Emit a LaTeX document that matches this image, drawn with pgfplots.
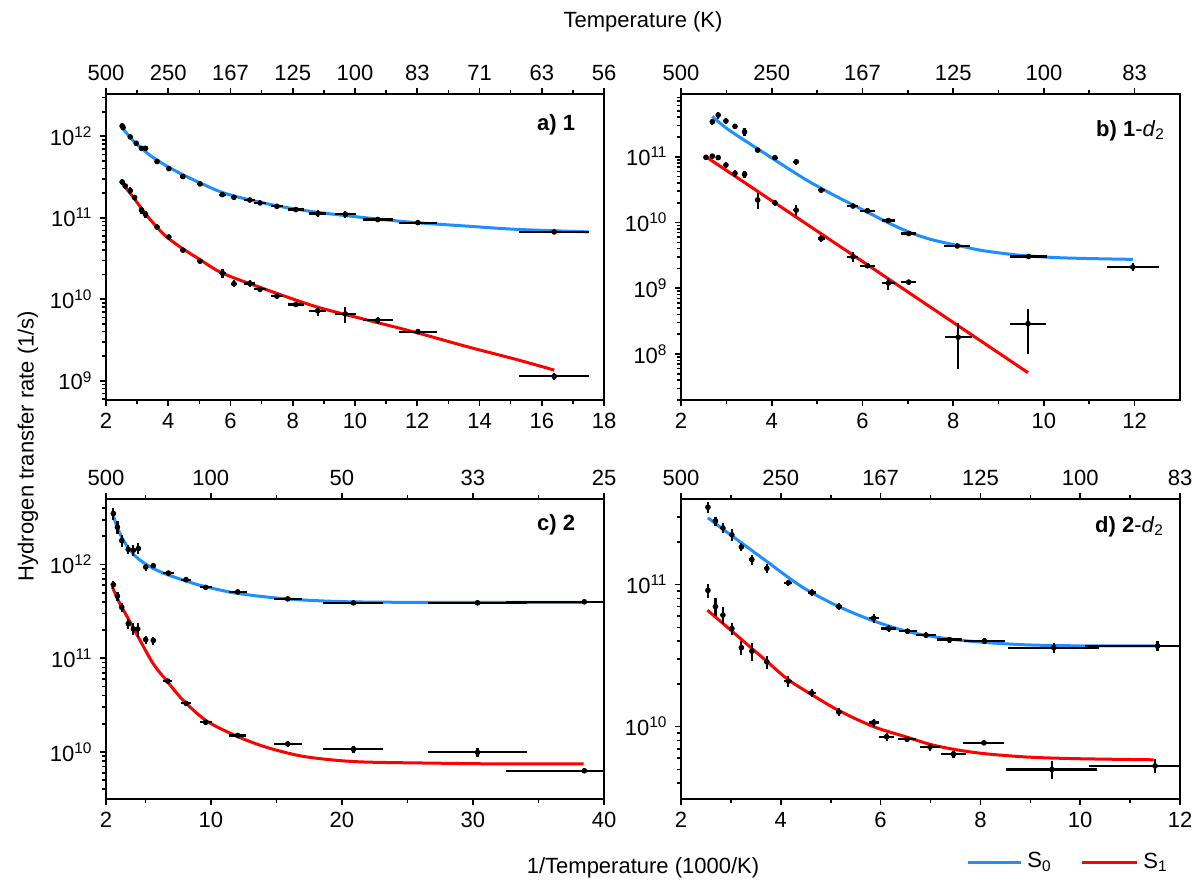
\documentclass[border=0pt]{standalone}
\usepackage{pgfplots}
\pgfplotsset{compat=1.18}
\usepackage{pgfplotstable}
\usepackage{fontspec}
\setmainfont{Liberation Sans}
\definecolor{SzeroBlue}{HTML}{1E8FFF}
\definecolor{SoneRed}{HTML}{FF0000}

% ---- panel a) 1 ----
\pgfplotstableread{
x y ex ey
2.52 1.34e12 0.05 0.08e12
2.55 1.28e12 0.05 0.08e12
2.78 9.8e11 0.05 0.6e11
2.97 8.2e11 0.05 0.5e11
3.14 7.1e11 0.05 0.45e11
3.27 7.1e11 0.05 0.5e11
3.64 4.9e11 0.06 0.3e11
4.02 4.0e11 0.07 0.25e11
4.47 3.2e11 0.08 0.2e11
5.02 2.6e11 0.1 0.16e11
5.74 1.92e11 0.11 0.12e11
6.11 1.78e11 0.11 0.1e11
6.62 1.65e11 0.18 0.08e11
6.95 1.52e11 0.18 0.08e11
7.49 1.38e11 0.19 0.07e11
8.10 1.26e11 0.25 0.06e11
8.80 1.13e11 0.27 0.1e11
9.69 1.10e11 0.33 0.1e11
10.73 9.5e10 0.48 0.4e10
12.02 8.7e10 0.62 0.4e10
16.40 6.7e10 1.13 0.3e10
}\tabAzero
\pgfplotstableread{
x y ex ey
2.52 2.75e11 0.05 0.2e11
2.62 2.45e11 0.05 0.2e11
2.78 2.15e11 0.05 0.2e11
2.92 1.77e11 0.05 0.15e11
3.14 1.24e11 0.05 0.12e11
3.27 1.10e11 0.05 0.1e11
3.64 7.7e10 0.06 0.6e10
4.02 5.8e10 0.07 0.4e10
4.47 4.0e10 0.08 0.3e10
5.02 2.93e10 0.1 0.2e10
5.74 2.09e10 0.11 0.25e10
6.11 1.55e10 0.11 0.15e10
6.62 1.56e10 0.18 0.15e10
6.95 1.32e10 0.18 0.1e10
7.49 1.09e10 0.19 0.08e10
8.10 8.6e9 0.25 0.6e9
8.80 7.2e9 0.27 0.9e9
9.69 6.6e9 0.33 1.5e9
10.73 5.5e9 0.48 0.5e9
12.02 4.0e9 0.62 0.2e9
16.40 1.13e9 1.13 0.1e9
}\tabAone
\pgfplotstableread{
x y
2.46 1.36e12
2.84 9.1e11
3.37 6.0e11
3.91 4.4e11
4.45 3.4e11
5.0 2.7e11
5.74 2.04e11
6.6 1.66e11
7.67 1.36e11
8.75 1.17e11
9.82 1.05e11
10.89 9.5e10
11.97 8.7e10
13.58 7.9e10
15.19 7.2e10
17.5 6.7e10
}\fitAzero
\pgfplotstableread{
x y
2.46 2.82e11
2.84 1.86e11
3.37 1.0e11
3.91 6.0e10
4.45 4.2e10
5.0 3.1e10
5.74 2.09e10
7.13 1.32e10
8.75 8.1e9
10.36 5.6e9
11.97 3.9e9
13.58 2.63e9
15.19 1.82e9
16.4 1.35e9
}\fitAone

% ---- panel b) 1-d2 ----
\pgfplotstableread{
x y ex ey
2.69 3.4e11 0.05 0.4e11
2.82 4.3e11 0.05 0.5e11
2.99 3.5e11 0.05 0.4e11
3.19 2.9e11 0.05 0.3e11
3.40 2.4e11 0.05 0.3e11
3.69 1.26e11 0.05 0.12e11
4.07 9.7e10 0.06 0.8e10
4.54 8.4e10 0.07 1.0e10
5.09 3.1e10 0.08 0.2e10
5.79 1.78e10 0.12 0.1e10
6.11 1.51e10 0.17 0.1e10
6.57 1.07e10 0.15 0.07e10
7.02 6.8e9 0.16 0.4e9
8.09 4.4e9 0.29 0.2e9
9.66 3.05e9 0.40 0.15e9
11.96 2.1e9 0.58 0.3e9
}\tabBzero
\pgfplotstableread{
x y ex ey
2.55 9.8e10 0.05 0.6e10
2.69 1.02e11 0.05 0.8e10
2.82 9.7e10 0.05 0.8e10
2.99 7.5e10 0.05 0.8e10
3.19 5.6e10 0.05 0.6e10
3.40 5.4e10 0.05 0.7e10
3.69 2.2e10 0.05 0.6e10
4.07 2.0e10 0.06 0.2e10
4.54 1.54e10 0.07 0.3e10
5.09 5.7e9 0.08 0.7e9
5.79 3.0e9 0.12 0.5e9
6.11 2.2e9 0.17 0.2e9
6.57 1.2e9 0.15 0.25e9
7.02 1.24e9 0.16 0.1e9
8.11 1.8e8 0.30 1.2e8
9.65 2.9e8 0.40 1.9e8
}\tabBone
\pgfplotstableread{
x y
2.69 4.1e11
3.05 2.57e11
3.85 1.12e11
4.66 4.9e10
5.06 3.4e10
5.47 2.4e10
5.87 1.74e10
6.27 1.26e10
6.68 9.1e9
7.08 6.9e9
7.48 5.6e9
7.89 4.8e9
8.29 4.2e9
8.69 3.7e9
9.5 3.16e9
10.31 2.92e9
11.11 2.82e9
11.96 2.75e9
}\fitBzero
\pgfplotstableread{
x y
2.55 1.0e11
6.1 2.3e9
9.65 5.2e7
}\fitBone

% ---- panel c) 2 ----
\pgfplotstableread{
x y ex ey
2.56 3.5e12 0.05 0.5e12
2.87 2.5e12 0.05 0.4e12
3.20 1.8e12 0.06 0.25e12
3.70 1.45e12 0.07 0.15e12
4.09 1.42e12 0.08 0.2e12
4.47 1.48e12 0.1 0.2e12
5.03 9.4e11 0.1 0.8e11
5.61 9.7e11 0.15 0.6e11
6.76 8.1e11 0.43 0.3e11
8.11 6.9e11 0.35 0.3e11
9.61 5.7e11 0.45 0.3e11
12.05 5.1e11 0.7 0.2e11
15.87 4.3e11 1.08 0.2e11
20.88 3.9e11 2.29 0.2e11
30.35 3.9e11 3.75 0.2e11
38.5 4.0e11 6.0 0.2e11
}\tabCzero
\pgfplotstableread{
x y ex ey
2.56 6.1e11 0.05 0.6e11
2.87 4.6e11 0.05 0.5e11
3.20 3.5e11 0.06 0.4e11
3.70 2.34e11 0.07 0.3e11
4.09 2.05e11 0.08 0.3e11
4.42 2.05e11 0.1 0.35e11
5.03 1.58e11 0.1 0.15e11
5.61 1.55e11 0.15 0.15e11
6.71 5.7e10 0.35 0.3e10
8.11 3.3e10 0.35 0.2e10
9.61 2.07e10 0.45 0.1e10
12.05 1.50e10 0.65 0.1e10
15.87 1.22e10 1.08 0.08e10
20.88 1.07e10 2.29 0.1e10
30.35 9.9e9 3.75 1.0e9
38.5 6.3e9 6.0 0.4e9
}\tabCone
\pgfplotstableread{
x y
2.48 3.6e12
2.81 2.6e12
3.32 1.81e12
4.09 1.29e12
4.85 1.05e12
5.87 8.7e11
7.14 7.4e11
9.18 6.0e11
11.72 5.0e11
14.26 4.5e11
16.8 4.2e11
20.6 4.0e11
27.0 3.94e11
38.4 3.94e11
}\fitCzero
\pgfplotstableread{
x y
2.48 5.75e11
3.07 3.8e11
3.83 2.45e11
4.6 1.55e11
5.61 8.7e10
6.63 5.75e10
7.9 3.55e10
9.68 2.14e10
12.05 1.46e10
14.26 1.12e10
16.81 9.1e9
19.35 8.2e9
21.9 7.8e9
26.99 7.6e9
32.08 7.46e9
38.44 7.46e9
}\fitCone

% ---- panel d) 2-d2 ----
\pgfplotstableread{
x y ex ey
2.54 3.5e11 0.03 0.3e11
2.69 2.8e11 0.04 0.2e11
2.84 2.5e11 0.04 0.2e11
3.02 2.24e11 0.04 0.2e11
3.21 1.84e11 0.05 0.12e11
3.42 1.50e11 0.05 0.12e11
3.72 1.30e11 0.05 0.1e11
4.15 1.03e11 0.08 0.05e11
4.62 8.8e10 0.08 0.5e10
5.16 7.0e10 0.06 0.4e10
5.86 5.8e10 0.1 0.4e10
6.16 4.9e10 0.15 0.3e10
6.54 4.7e10 0.18 0.2e10
6.91 4.4e10 0.2 0.2e10
7.38 4.1e10 0.25 0.2e10
8.08 4.0e10 0.41 0.2e10
9.47 3.6e10 0.91 0.3e10
11.55 3.7e10 1.46 0.3e10
}\tabDzero
\pgfplotstableread{
x y ex ey
2.54 9.1e10 0.03 1.0e10
2.69 7.0e10 0.04 1.0e10
2.84 6.1e10 0.04 0.8e10
3.02 4.9e10 0.04 0.5e10
3.21 3.6e10 0.04 0.4e10
3.42 3.4e10 0.04 0.5e10
3.72 2.86e10 0.05 0.3e10
4.15 2.09e10 0.08 0.2e10
4.62 1.73e10 0.08 0.1e10
5.16 1.27e10 0.06 0.08e10
5.86 1.07e10 0.1 0.07e10
6.12 8.5e9 0.15 0.6e9
6.53 8.15e9 0.18 0.3e9
6.99 7.2e9 0.2 0.4e9
7.46 6.4e9 0.25 0.4e9
8.07 7.7e9 0.41 0.3e9
9.43 5.0e9 0.91 0.7e9
11.5 5.3e9 1.33 0.6e9
}\tabDone
\pgfplotstableread{
x y
2.54 2.95e11
2.96 2.28e11
3.69 1.48e11
4.43 9.6e10
5.16 7.0e10
5.89 5.5e10
6.62 4.6e10
7.35 4.15e10
8.08 3.92e10
8.81 3.78e10
9.54 3.72e10
10.49 3.7e10
11.5 3.7e10
}\fitDzero
\pgfplotstableread{
x y
2.53 6.6e10
2.96 4.9e10
3.72 2.88e10
4.15 2.14e10
4.62 1.68e10
5.16 1.30e10
5.86 1.0e10
6.5 8.5e9
7.0 7.5e9
7.5 6.9e9
8.1 6.45e9
9.0 6.1e9
10.0 5.95e9
11.47 5.85e9
}\fitDone

\newcommand{\lblfont}{\fontsize{11}{13}\selectfont}
\pgfplotsset{
  every axis/.append style={
    scale only axis, tick align=outside,
    axis line style={line width=1.1pt},
    major tick length=3.2pt, minor tick length=1.8pt,
    every tick/.style={black,line width=0.8pt},
    tick label style={font=\lblfont},
  },
}

\begin{document}
\begin{tikzpicture}
\useasboundingbox (-53pt,-43pt) rectangle (545.5pt,399.5pt);
% a)
\begin{axis}[ymode=log, tick pos=left, at={(0pt,199.5pt)}, anchor=south west, width=249pt, height=153pt,
  xmin=2, xmax=18, ymin=5.8e8, ymax=3.3e12,
  xtick={2,4,...,18}, minor xtick={3,5,...,17},
  xticklabels={2,4,6,8,10,12,14,16,18},
  ytick={1e9,1e10,1e11,1e12},
  minor ytick={6e8,7e8,8e8,9e8,2e9,3e9,4e9,5e9,6e9,7e9,8e9,9e9,2e10,3e10,4e10,5e10,6e10,7e10,8e10,9e10,2e11,3e11,4e11,5e11,6e11,7e11,8e11,9e11,2e12,3e12},
  yticklabels={10\textsuperscript{9},10\textsuperscript{10},10\textsuperscript{11},10\textsuperscript{12}}]
  \addplot[line width=1.5pt, no marks, smooth, SzeroBlue] table[x=x,y=y]{\fitAzero};
  \addplot[line width=1.5pt, no marks, smooth, SoneRed] table[x=x,y=y]{\fitAone};
  \addplot[only marks, mark=*, mark size=1.2pt, black, error bars/.cd, x dir=both, x explicit, y dir=both, y explicit, error mark=none, error bar style={line width=1.1pt, black}] table[x=x,y=y,x error=ex,y error=ey]{\tabAzero};
  \addplot[only marks, mark=*, mark size=1.2pt, black, error bars/.cd, x dir=both, x explicit, y dir=both, y explicit, error mark=none, error bar style={line width=1.1pt, black}] table[x=x,y=y,x error=ex,y error=ey]{\tabAone};
  \node[anchor=east, font=\lblfont] at (rel axis cs:0.956,0.9) {\textbf{a) 1}};
\end{axis}
\begin{axis}[axis x line*=top, axis y line=none, ymin=0, ymax=1, at={(0pt,199.5pt)}, anchor=south west, width=249pt, height=153pt,
  xmin=2, xmax=18, xtick={2,4,...,18}, minor xtick={3,5,...,17},
  xticklabels={500,250,167,125,100,83,71,63,56}]
\end{axis}
% b)
\begin{axis}[ymode=log, tick pos=left, at={(287.5pt,199.5pt)}, anchor=south west, width=249.5pt, height=153pt,
  xmin=2, xmax=13, ymin=2e7, ymax=9e11,
  xtick={2,4,...,12}, minor xtick={3,5,...,11},
  xticklabels={2,4,6,8,10,12},
  ytick={1e8,1e9,1e10,1e11},
  minor ytick={2e7,3e7,4e7,5e7,6e7,7e7,8e7,9e7,2e8,3e8,4e8,5e8,6e8,7e8,8e8,9e8,2e9,3e9,4e9,5e9,6e9,7e9,8e9,9e9,2e10,3e10,4e10,5e10,6e10,7e10,8e10,9e10,2e11,3e11,4e11,5e11,6e11,7e11,8e11},
  yticklabels={10\textsuperscript{8},10\textsuperscript{9},10\textsuperscript{10},10\textsuperscript{11}}]
  \addplot[line width=1.5pt, no marks, smooth, SzeroBlue] table[x=x,y=y]{\fitBzero};
  \addplot[line width=1.5pt, no marks, SoneRed] table[x=x,y=y]{\fitBone};
  \addplot[only marks, mark=*, mark size=1.2pt, black, error bars/.cd, x dir=both, x explicit, y dir=both, y explicit, error mark=none, error bar style={line width=1.1pt, black}] table[x=x,y=y,x error=ex,y error=ey]{\tabBzero};
  \addplot[only marks, mark=*, mark size=1.2pt, black, error bars/.cd, x dir=both, x explicit, y dir=both, y explicit, error mark=none, error bar style={line width=1.1pt, black}] table[x=x,y=y,x error=ex,y error=ey]{\tabBone};
  \node[anchor=east, font=\lblfont] at (rel axis cs:0.984,0.88) {\textbf{b) 1}-\textit{d}\textsubscript{2}};
\end{axis}
\begin{axis}[axis x line*=top, axis y line=none, ymin=0, ymax=1, at={(287.5pt,199.5pt)}, anchor=south west, width=249.5pt, height=153pt,
  xmin=2, xmax=13, xtick={2,4,...,12}, minor xtick={3,5,...,11},
  xticklabels={500,250,167,125,100,83}]
\end{axis}
% c)
\begin{axis}[ymode=log, tick pos=left, at={(0pt,0pt)}, anchor=south west, width=249pt, height=150pt,
  xmin=2, xmax=40, ymin=3.15e9, ymax=5e12,
  xtick={2,10,20,30,40}, minor xtick={5,15,25,35},
  xticklabels={2,10,20,30,40},
  ytick={1e10,1e11,1e12},
  minor ytick={4e9,5e9,6e9,7e9,8e9,9e9,2e10,3e10,4e10,5e10,6e10,7e10,8e10,9e10,2e11,3e11,4e11,5e11,6e11,7e11,8e11,9e11,2e12,3e12,4e12},
  yticklabels={10\textsuperscript{10},10\textsuperscript{11},10\textsuperscript{12}}]
  \addplot[line width=1.5pt, no marks, smooth, SzeroBlue] table[x=x,y=y]{\fitCzero};
  \addplot[line width=1.5pt, no marks, smooth, SoneRed] table[x=x,y=y]{\fitCone};
  \addplot[only marks, mark=*, mark size=1.2pt, black, error bars/.cd, x dir=both, x explicit, y dir=both, y explicit, error mark=none, error bar style={line width=1.1pt, black}] table[x=x,y=y,x error=ex,y error=ey]{\tabCzero};
  \addplot[only marks, mark=*, mark size=1.2pt, black, error bars/.cd, x dir=both, x explicit, y dir=both, y explicit, error mark=none, error bar style={line width=1.1pt, black}] table[x=x,y=y,x error=ex,y error=ey]{\tabCone};
  \node[anchor=east, font=\lblfont] at (rel axis cs:0.956,0.913) {\textbf{c) 2}};
\end{axis}
\begin{axis}[axis x line*=top, axis y line=none, ymin=0, ymax=1, at={(0pt,0pt)}, anchor=south west, width=249pt, height=150pt,
  xmin=2, xmax=40, xtick={2,10,20,30,40}, minor xtick={5,15,25,35},
  xticklabels={500,100,50,33,25}]
\end{axis}
% d)
\begin{axis}[ymode=log, tick pos=left, at={(287.5pt,0pt)}, anchor=south west, width=249.5pt, height=150pt,
  xmin=2, xmax=12, ymin=3.1e9, ymax=4e11,
  xtick={2,4,...,12}, minor xtick={3,5,...,11},
  xticklabels={2,4,6,8,10,12},
  ytick={1e10,1e11},
  minor ytick={4e9,5e9,6e9,7e9,8e9,9e9,2e10,3e10,4e10,5e10,6e10,7e10,8e10,9e10,2e11,3e11},
  yticklabels={10\textsuperscript{10},10\textsuperscript{11}}]
  \addplot[line width=1.5pt, no marks, smooth, SzeroBlue] table[x=x,y=y]{\fitDzero};
  \addplot[line width=1.5pt, no marks, smooth, SoneRed] table[x=x,y=y]{\fitDone};
  \addplot[only marks, mark=*, mark size=1.2pt, black, error bars/.cd, x dir=both, x explicit, y dir=both, y explicit, error mark=none, error bar style={line width=1.1pt, black}] table[x=x,y=y,x error=ex,y error=ey]{\tabDzero};
  \addplot[only marks, mark=*, mark size=1.2pt, black, error bars/.cd, x dir=both, x explicit, y dir=both, y explicit, error mark=none, error bar style={line width=1.1pt, black}] table[x=x,y=y,x error=ex,y error=ey]{\tabDone};
  \node[anchor=east, font=\lblfont] at (rel axis cs:0.982,0.907) {\textbf{d) 2}-\textit{d}\textsubscript{2}};
\end{axis}
\begin{axis}[axis x line*=top, axis y line=none, ymin=0, ymax=1, at={(287.5pt,0pt)}, anchor=south west, width=249.5pt, height=150pt,
  xmin=2, xmax=12, xtick={2,4,...,12}, minor xtick={3,5,...,11},
  xticklabels={500,250,167,125,100,83}]
\end{axis}
% titles and legend
\node[font=\lblfont] at (268.5pt,388.5pt) {Temperature (K)};
\node[font=\lblfont] at (268.5pt,-34.5pt) {1/Temperature (1000/K)};
\node[font=\lblfont, rotate=90] at (-39pt,176.5pt) {Hydrogen transfer rate (1/s)};
\draw[SzeroBlue, line width=1.5pt] (431pt,-31.5pt) -- (457.5pt,-31.5pt);
\node[anchor=west, inner sep=0pt, font=\lblfont] at (460.5pt,-31.5pt) {S\textsubscript{0}};
\draw[SoneRed, line width=1.5pt] (488pt,-31.5pt) -- (515.5pt,-31.5pt);
\node[anchor=west, inner sep=0pt, font=\lblfont] at (518.5pt,-31.5pt) {S\textsubscript{1}};
\end{tikzpicture}
\end{document}
